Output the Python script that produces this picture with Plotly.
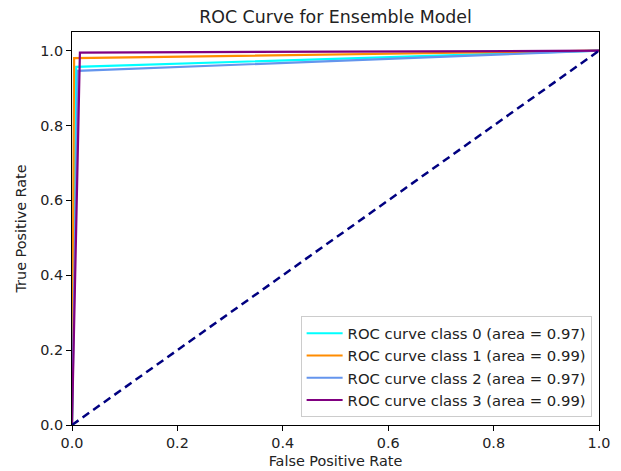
import plotly.graph_objects as go

# ROC data
class_names = ["ROC curve class 0", "ROC curve class 1", "ROC curve class 2", "ROC curve class 3"]
areas = [0.97, 0.99, 0.97, 0.99]
fpr_class0 = [0.0, 0.008, 1.0]
tpr_class0 = [0.0, 0.957, 1.0]
fpr_class1 = [0.0, 0.004, 1.0]
tpr_class1 = [0.0, 0.980, 1.0]
fpr_class2 = [0.0, 0.011, 1.0]
tpr_class2 = [0.0, 0.946, 1.0]
fpr_class3 = [0.0, 0.015, 1.0]
tpr_class3 = [0.0, 0.995, 1.0]
diag_x = [0.0, 1.0]
diag_y = [0.0, 1.0]
tick_vals = [0.0, 0.2, 0.4, 0.6, 0.8, 1.0]
tick_text = ["0.0", "0.2", "0.4", "0.6", "0.8", "1.0"]

colors = ["#00FFFF", "#FF8C00", "#6495ED", "#800080"]
fprs = [fpr_class0, fpr_class1, fpr_class2, fpr_class3]
tprs = [tpr_class0, tpr_class1, tpr_class2, tpr_class3]

FONT = "DejaVu Sans"
FS = 14.4
W, H = 613, 463  # page body has an 8px margin

fig = go.Figure()
for name, a, fx, ty, c in zip(class_names, areas, fprs, tprs, colors):
    fig.add_trace(go.Scatter(
        x=fx, y=ty, mode="lines",
        line=dict(color=c, width=2.2),
        name=f"{name} (area = {a:.2f})",
    ))
fig.add_trace(go.Scatter(
    x=diag_x, y=diag_y, mode="lines",
    line=dict(color="#000080", width=2.5, dash="8px,5px"),
    showlegend=False,
))

axis_common = dict(
    showgrid=False, zeroline=False, showline=True, linecolor="black",
    linewidth=1, mirror=True, ticks="outside", ticklen=5, tickwidth=1,
    tickcolor="black", tickvals=tick_vals, ticktext=tick_text,
    tickfont=dict(family=FONT, size=FS, color="#222222"),
    automargin=False,
)

fig.update_layout(
    width=W, height=H,
    margin=dict(l=64, r=22, t=24, b=46),
    paper_bgcolor="white", plot_bgcolor="white",
    font=dict(family=FONT, color="#222222"),
    title=dict(text="ROC Curve for Ensemble Model", x=327.5 / W,
               xanchor="center", y=1 - 8.5 / H, yanchor="middle",
               font=dict(family=FONT, size=17.4, color="#222222")),
    xaxis=dict(range=[0, 1], title=dict(text="False Positive Rate", standoff=5,
                                        font=dict(family=FONT, size=FS)),
               **axis_common),
    yaxis=dict(range=[0, 1.05], title=dict(text="True Positive Rate", standoff=10,
                                           font=dict(family=FONT, size=FS)),
               **axis_common),
    legend=dict(x=0.986, y=0.02, xanchor="right", yanchor="bottom",
                bgcolor="rgba(255,255,255,0.8)", bordercolor="#cccccc", borderwidth=1,
                font=dict(family=FONT, size=14.8, color="#222222"),
                tracegroupgap=0, itemwidth=36),
    showlegend=True,
)

fig.write_html("out.html")
